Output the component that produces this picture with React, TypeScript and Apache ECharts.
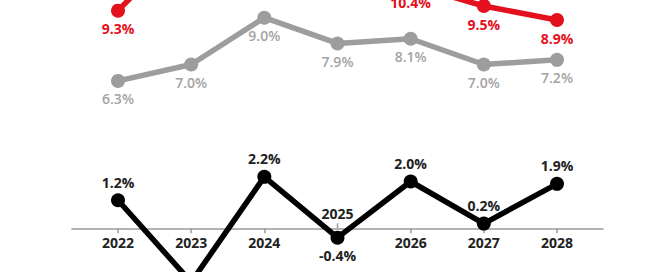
import React, { useEffect, useRef } from "react";
import * as echarts from "echarts";

const years = [2022, 2023, 2024, 2025, 2026, 2027, 2028];
const redValues = [9.3, 12.5, 12.0, 11.2, 10.4, 9.5, 8.9];
const grayValues = [6.3, 7.0, 9.0, 7.9, 8.1, 7.0, 7.2];
const blackValues = [1.2, -2.3, 2.2, -0.4, 2.0, 0.2, 1.9];
const bottomTickYears = [2022, 2023, 2024, 2026, 2027, 2028];
const topTickYears = [2025];

const FONT = "Open Sans";

function lineSeries(
  name: string,
  values: number[],
  color: string,
  labelColor: string,
  weight: number | string,
  posFn: (v: number) => string,
  z: number
) {
  return {
    name,
    type: "line",
    xAxisIndex: 0,
    yAxisIndex: 0,
    clip: false,
    z,
    symbol: "circle",
    symbolSize: 14,
    lineStyle: { color, width: 5.5, cap: "round", join: "round" },
    itemStyle: { color },
    data: values.map((v, i) => ({
      value: [years[i], v],
      label: { position: posFn(v) },
    })),
    label: {
      show: true,
      distance: 4,
      color: labelColor,
      fontFamily: FONT,
      fontWeight: weight,
      fontSize: 14,
      formatter: (p: any) => p.value[1].toFixed(1) + "%",
    },
  };
}

export default function App() {
  const ref = useRef<HTMLDivElement>(null);
  useEffect(() => {
    if (!ref.current) return;
    const chart = echarts.init(ref.current, null, { renderer: "svg" });
    const pxPerYear = (557 - 118) / 6;
    const xMin = 2022 - 46 / pxPerYear;
    const xMax = 2028 + 46 / pxPerYear;
    const pxPerUnit = 23.4;
    const zeroY = 228.3;
    const yMax = zeroY / pxPerUnit;
    chart.setOption({
      animation: false,
      grid: { left: 72, right: 66, top: 0, bottom: 272 - zeroY, outerBoundsMode: "none", containLabel: false },
      xAxis: {
        type: "value",
        min: xMin,
        max: xMax,
        position: "bottom",
        splitLine: { show: false },
        axisLine: { show: true, onZero: false, lineStyle: { color: "#9a9a9a", width: 1.5 } },
        axisTick: {
          show: true,
          length: 5,
          customValues: bottomTickYears,
          lineStyle: { color: "#9a9a9a", width: 1.5 },
        },
        axisLabel: {
          show: true,
          customValues: bottomTickYears,
          margin: 7,
          color: "#222",
          fontFamily: FONT,
          fontWeight: "bold",
          fontSize: 14,
          formatter: (v: number) => String(Math.round(v)),
        },
      },
      yAxis: {
        type: "value",
        min: 0,
        max: yMax,
        show: false,
        splitLine: { show: false },
      },
      series: [
        {
          name: "upTick",
          type: "scatter",
          z: 1,
          clip: false,
          symbol: "rect",
          symbolSize: [1.5, 5],
          symbolOffset: [0, -2.5],
          itemStyle: { color: "#9a9a9a", opacity: 1 },
          data: topTickYears.map((y) => [y, 0]),
          label: {
            show: true,
            position: "top",
            distance: 3,
            color: "#222",
            opacity: 1,
            fontFamily: FONT,
            fontWeight: "bold",
            fontSize: 14,
            formatter: (p: any) => String(p.value[0]),
          },
        },
        lineSeries("gray", grayValues, "#9d9d9d", "#a3a3a3", 600, () => "bottom", 2),
        lineSeries("red", redValues, "#e5101d", "#e5101d", "bold", () => "bottom", 3),
        lineSeries("black", blackValues, "#000000", "#222222", "bold", (v) => (v < 0 ? "bottom" : "top"), 4),
      ],
    });
    return () => chart.dispose();
  }, []);
  return (
    <div
      ref={ref}
      style={{ position: "absolute", left: 0, top: 0, width: 669, height: 272, overflow: "hidden", background: "#fff" }}
    />
  );
}
